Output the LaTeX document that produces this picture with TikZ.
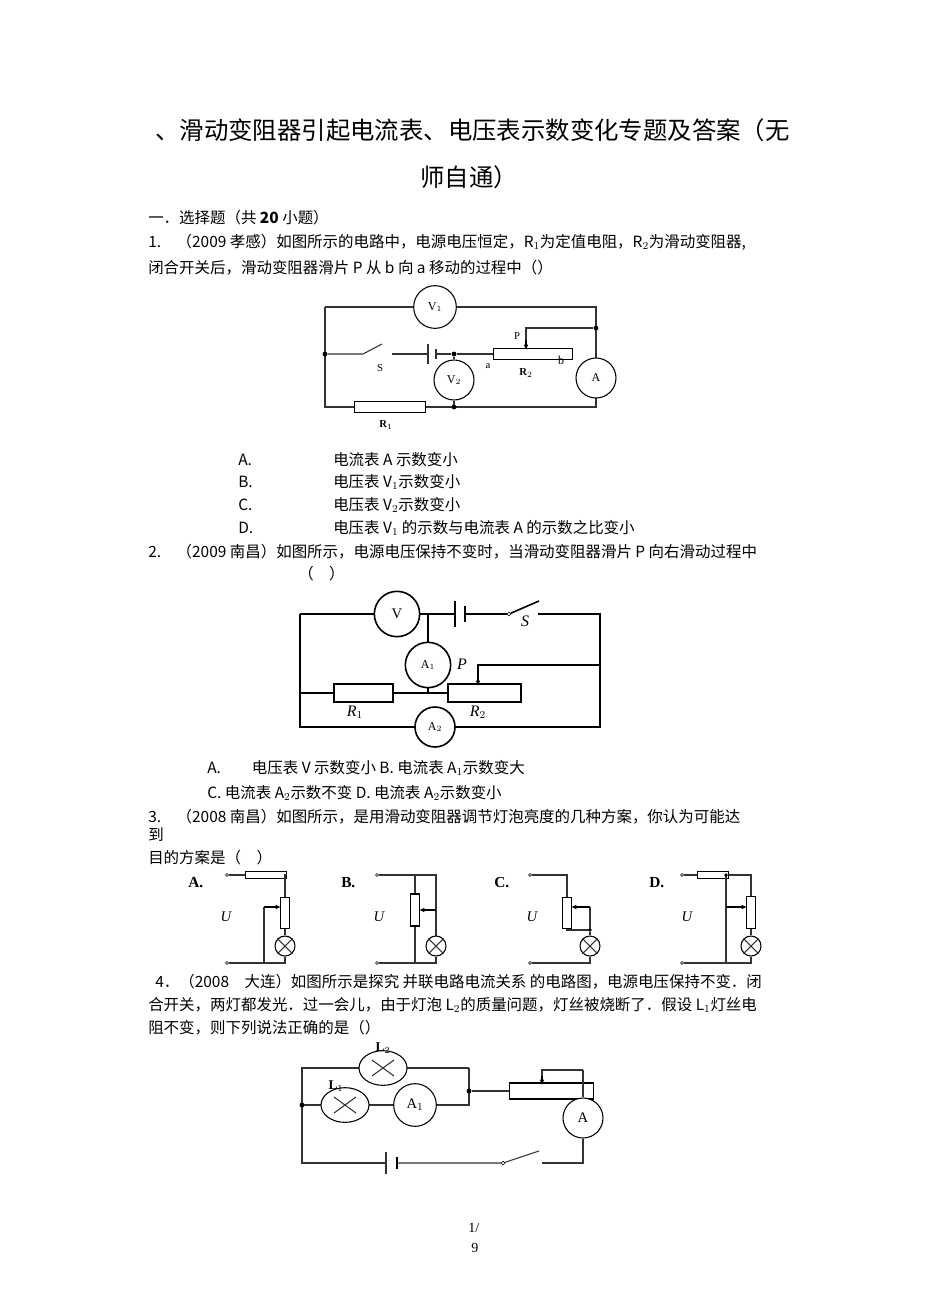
\documentclass[tikz,border=0pt]{standalone}
\usepackage{fontspec}
\setmainfont{Liberation Serif}
\newfontfamily\cjk{Noto Sans CJK SC}
\usetikzlibrary{arrows.meta,shapes.geometric}
\begin{document}
\begin{tikzpicture}[x=0.75pt,y=-0.75pt,
  txt/.style={anchor=west,inner sep=0pt,font=\cjk\fontsize{11.6}{12}\selectfont},
  wire/.style={line width=0.8pt,black!80},
  meter/.style={circle,draw,line width=0.8pt,fill=white,inner sep=0pt,minimum size=#1,font=\fontsize{9}{10}\selectfont},
  res/.style={draw,line width=0.8pt,fill=white},
  dot/.style={circle,fill,inner sep=1.3pt},
  term/.style={circle,draw,fill=white,inner sep=1pt},
  lamp/.style={circle,draw,fill=white,line width=0.8pt,minimum size=15,inner sep=0pt},
  arr/.style={-{Latex[length=4pt,width=3.5pt]},line width=0.8pt}]
\useasboundingbox (0,0) rectangle (950,1304);
% title
\node[txt,font=\cjk\fontsize{18.3}{20}\selectfont] (t1) at (155,130) {、滑动变阻器引起电流表、电压表示数变化专题及答案（无};
\node[txt,font=\cjk\fontsize{18.3}{20}\selectfont] (t2) at (420,177) {师自通）};
\node[txt] (s1) at (148,218) {一．选择题（共 \textbf{20} 小题）};
\node[txt] (q1a) at (148,242) {1.　（2009 孝感）如图所示的电路中，电源电压恒定，R$_1$为定值电阻，R$_2$为滑动变阻器,};
\node[txt] (q1b) at (148,268) {闭合开关后，滑动变阻器滑片 P 从 b 向 a 移动的过程中（）};
% circuit 1
\coordinate (c1tl) at (325,307); \coordinate (c1tr) at (596,307);
\coordinate (c1ml) at (325,354); \coordinate (c1bl) at (325,407); \coordinate (c1br) at (596,407);
\draw[wire] (c1tl) -- (c1tr) -- (c1br) -- (c1bl) -- (c1tl);
\node[meter=32] (v1) at (435,307) {V$_1$};
\node[dot] (j1) at (c1ml) {};
\coordinate (sw1) at (363,354);
\draw[wire] (j1) -- (sw1) -- (382,344);
\node[font=\fontsize{8}{9}\selectfont] (S1) at (380,368) {S};
\draw[wire] (392,354) -- (428,354);
\draw[wire] (428,344) -- (428,364); \draw[wire] (436,349) -- (436,359);
\node[dot] (j2) at (454,354) {};
\draw[wire] (436,354) -- (j2) -- (493,354);
\node[meter=30] (v2) at (454,380) {V$_2$};
\draw[wire] (j2) -- (v2) -- (454,407);
\node[dot] (j3) at (454,407) {};
\node[res,minimum width=59,minimum height=8,inner sep=0pt,anchor=west] (r2) at (493,354) {};
\node (la) at (488,366) {\fontsize{8}{9}\selectfont a};
\node (lb) at (561,360) {\fontsize{9}{10}\selectfont b};
\node (lR2) at (526,373) {\fontsize{8}{9}\selectfont\textbf{R}$_2$};
\node[dot] (j4) at (596,328) {};
\draw[wire] (j4) -- (526,328) -- (526,346);
\draw[arr] (526,340) -- (526,350);
\node (lP) at (517,336) {\fontsize{8}{9}\selectfont P};
\node[meter=30] (a1) at (596,378) {A};
\node[res,minimum width=53,minimum height=8,inner sep=0pt] (r1) at (390,407) {};
\node (lR1) at (386,425) {\fontsize{8}{9}\selectfont\textbf{R}$_1$};
% options 1
\node[txt] (o1a) at (238,460) {A.}; \node[txt] at (333,460) {电流表 A 示数变小};
\node[txt] (o1b) at (238,482) {B.}; \node[txt] at (333,482) {电压表 V$_1$示数变小};
\node[txt] (o1c) at (238,505) {C.}; \node[txt] at (333,505) {电压表 V$_2$示数变小};
\node[txt] (o1d) at (238,528) {D.}; \node[txt] at (333,528) {电压表 V$_1$ 的示数与电流表 A 的示数之比变小};
% Q2
\node[txt] (q2a) at (148,552) {2.　（2009 南昌）如图所示，电源电压保持不变时，当滑动变阻器滑片 P 向右滑动过程中};
\node[txt] (q2b) at (298,574) {（　）};
% circuit 2
\draw[line width=1.4pt] (300,614) -- (454,614);
\draw[line width=1.4pt] (466,614) -- (509,614);
\draw[line width=1.4pt] (538,614) -- (600,614) -- (600,727) -- (300,727) -- (300,614);
\node[meter=34,line width=1.2pt] (v2c) at (397,614) {\fontsize{11}{12}\selectfont V};
\draw[line width=2pt] (455,601) -- (455,627); \draw[line width=2pt] (465,606) -- (465,622);
\node[term] (sw2) at (509,614) {};
\draw[line width=1.2pt] (sw2) -- (539,601);
\node (S2) at (525,621) {\fontsize{12}{12}\selectfont\itshape S};
\node[dot,inner sep=0pt] (j21) at (428,614) {};
\node[meter=34,line width=1.2pt] (am1) at (428,665) {A$_1$};
\draw[line width=1.4pt] (j21) -- (am1) -- (428,693);
\draw[line width=1.4pt] (300,693) -- (333,693);
\node[res,line width=1.4pt,minimum width=44,minimum height=13,inner sep=0pt,anchor=west] (R1c) at (333,693) {};
\draw[line width=1.4pt] (R1c.east) -- (447,693);
\node[res,line width=1.4pt,minimum width=55,minimum height=13,inner sep=0pt,anchor=west] (R2c) at (447,693) {};
\draw[line width=1.4pt] (600,665) -- (478,665) -- (478,680);
\draw[arr,line width=1pt] (478,676) -- (478,686);
\node (P2) at (462,664) {\fontsize{12}{12}\selectfont\itshape P};
\node (R1l) at (355,712) {\fontsize{12}{12}\selectfont\itshape R$_1$};
\node (R2l) at (478,712) {\fontsize{12}{12}\selectfont\itshape R$_2$};
\node[meter=30,line width=1.2pt] (am2) at (435,727) {A$_2$};
% options 2
\node[txt] (o2a) at (207,768) {A.　　电压表 V 示数变小 B. 电流表 A$_1$示数变大};
\node[txt] (o2c) at (207,793) {C. 电流表 A$_2$示数不变 D. 电流表 A$_2$示数变小};
% Q3
\node[txt] (q3a) at (148,817) {3.　（2008 南昌）如图所示，是用滑动变阻器调节灯泡亮度的几种方案，你认为可能达};
\node[txt] (q3b) at (148,835) {到};
\node[txt] (q3c) at (148,858) {目的方案是（　）};
\foreach \L/\dx in {A/0,B/153,C/306,D/461}{
  \node[txt,font=\fontsize{11.5}{12}\selectfont\bfseries] at (188+\dx,883) {\L.};
  \node at (226+\dx,917) {\fontsize{11}{12}\selectfont\itshape U};
}
% A
\node[term,inner sep=0.8pt] (tA1) at (227,875) {}; \node[term,inner sep=0.8pt] (tA2) at (227,963) {};
\draw[wire] (tA1) -- (245,875); \node[res,minimum width=31,minimum height=5,inner sep=0pt,anchor=west] (rA) at (245,875) {};
\draw[wire] (rA.east) -- (285,875) -- (285,897);
\node[res,minimum width=7,minimum height=23,inner sep=0pt,anchor=north] (rhA) at (285,897) {};
\node[lamp] (lA) at (285,946) {};
\draw[wire] (lA.north west) -- (lA.south east) (lA.north east) -- (lA.south west);
\draw[wire] (rhA.south) -- (lA.north) (lA.south) -- (285,963) -- (tA2);
\draw[wire] (264,963) -- (264,907); \draw[arr] (264,907) -- (281,907);
% B
\node[term,inner sep=0.8pt] (tB1) at (377,875) {}; \node[term,inner sep=0.8pt] (tB2) at (377,963) {};
\draw[wire] (tB1) -- (436,875) -- (436,938);
\draw[wire] (415,875) -- (415,963);
\node[res,minimum width=7,minimum height=24,inner sep=0pt] (rhB) at (415,910) {};
\node[lamp] (lB) at (436,946) {};
\draw[wire] (lB.north west) -- (lB.south east) (lB.north east) -- (lB.south west);
\draw[wire] (lB.south) -- (436,963) -- (tB2);
\draw[arr] (436,910) -- (419,910);
% C
\node[term,inner sep=0.8pt] (tC1) at (530,875) {}; \node[term,inner sep=0.8pt] (tC2) at (530,963) {};
\draw[wire] (tC1) -- (567,875) -- (567,897);
\node[res,minimum width=7,minimum height=23,inner sep=0pt,anchor=north] (rhC) at (567,897) {};
\draw[wire] (rhC.south) -- (567,930) -- (590,930) -- (590,907);
\draw[arr] (590,907) -- (571,907);
\node[dot,inner sep=1pt] (jC) at (590,930) {};
\node[lamp] (lC) at (590,946) {};
\draw[wire] (lC.north west) -- (lC.south east) (lC.north east) -- (lC.south west);
\draw[wire] (jC) -- (lC.north) (lC.south) -- (590,963) -- (tC2);
% D
\node[term,inner sep=0.8pt] (tD1) at (682,875) {}; \node[term,inner sep=0.8pt] (tD2) at (682,963) {};
\draw[wire] (tD1) -- (697,875); \node[res,minimum width=23,minimum height=5,inner sep=0pt,anchor=west] (rD) at (697,875) {};
\draw[wire] (rD.east) -- (751,875) -- (751,896);
\node[res,minimum width=7,minimum height=24,inner sep=0pt,anchor=north] (rhD) at (751,896) {};
\node[lamp] (lD) at (751,946) {};
\draw[wire] (lD.north west) -- (lD.south east) (lD.north east) -- (lD.south west);
\draw[wire] (rhD.south) -- (lD.north) (lD.south) -- (751,963) -- (tD2);
\draw[wire] (726,875) -- (726,963);
\node[dot,inner sep=1pt] at (726,875) {};
\draw[arr] (726,907) -- (747,907);
% Q4
\node[txt] (q4a) at (155,982) {4．（2008　大连）如图所示是探究 并联电路电流关系 的电路图，电源电压保持不变．闭};
\node[txt] (q4b) at (148,1005) {合开关，两灯都发光．过一会儿，由于灯泡 L$_2$的质量问题，灯丝被烧断了．假设 L$_1$灯丝电};
\node[txt] (q4c) at (148,1028) {阻不变，则下列说法正确的是（）};
% circuit 4
\draw[wire] (469,1068) -- (302,1068) -- (302,1163) -- (386,1163);
\draw[wire] (302,1105) -- (469,1105) -- (469,1068);
\node[dot] (j41) at (302,1105) {};
\node[dot] (j42) at (469,1091) {};
\node[ellipse,draw,fill=white,line width=0.8pt,minimum width=36,minimum height=26,inner sep=0pt] (L2) at (383,1068) {};
\draw[wire] (372,1060) -- (394,1076) (394,1060) -- (372,1076);
\node[ellipse,draw,fill=white,line width=0.8pt,minimum width=36,minimum height=26,inner sep=0pt] (L1) at (345,1105) {};
\draw[wire] (334,1097) -- (356,1113) (356,1097) -- (334,1113);
\node[meter=32] (A14) at (415,1105) {\fontsize{11}{12}\selectfont A$_1$};
\node (L2l) at (383,1048) {\fontsize{10}{11}\selectfont\textbf{L}$_2$};
\node (L1l) at (336,1086) {\fontsize{10}{11}\selectfont\textbf{L}$_1$};
\draw[wire] (j42) -- (509,1091);
\node[res,minimum width=63,minimum height=12,inner sep=0pt,anchor=west] (rh4) at (509,1091) {};
\draw[wire] (583,1070) -- (542,1070) -- (542,1078); \draw[arr] (542,1076) -- (542,1085);
\node[meter=30] (A4) at (583,1118) {\fontsize{11}{12}\selectfont A};
\draw[wire] (583,1070) -- (A4) -- (583,1163) -- (542,1163);
\draw[wire] (386,1152) -- (386,1174); \draw[line width=1.6pt] (397,1157) -- (397,1169);
\node[term] (sw4) at (503,1163) {};
\draw[wire] (397,1163) -- (sw4) -- (539,1151);
% page number
\node[txt,font=\fontsize{10.5}{12}\selectfont] (pg1) at (468,1228) {1/};
\node[txt,font=\fontsize{10.5}{12}\selectfont] (pg2) at (471,1248) {9};
\end{tikzpicture}
\end{document}
